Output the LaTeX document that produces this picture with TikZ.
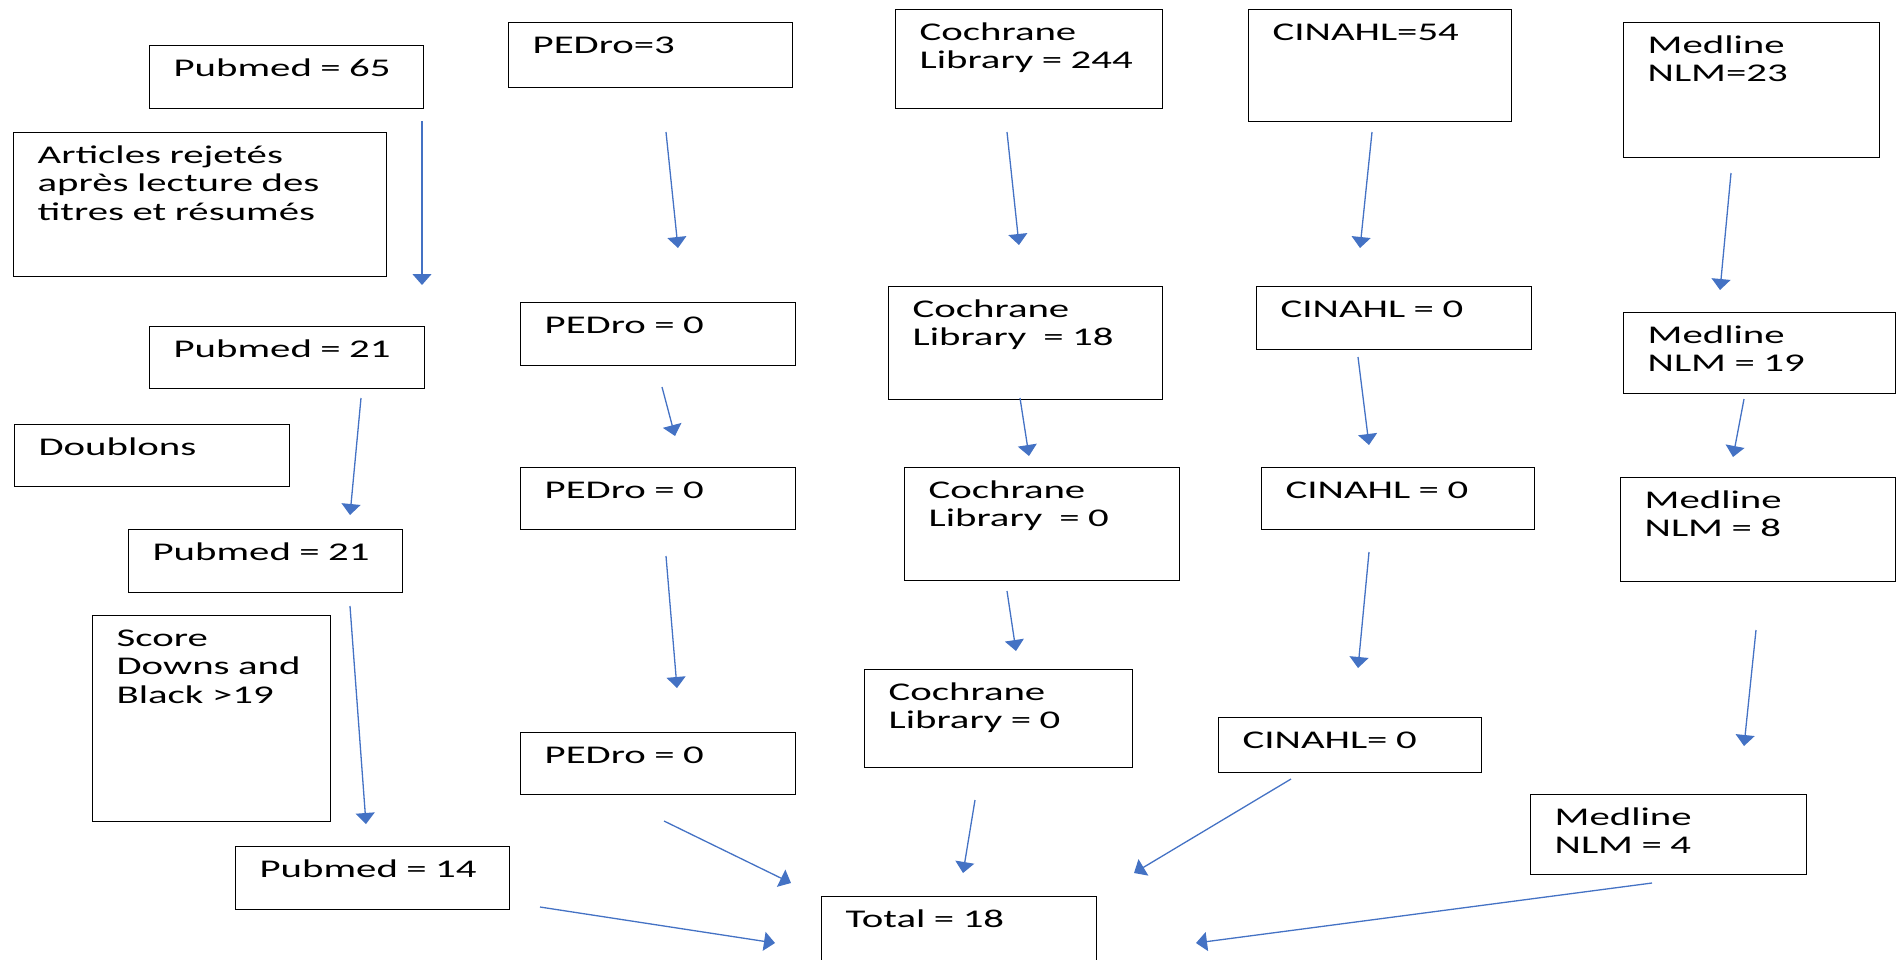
\documentclass[tikz,border=0pt]{standalone}
\usepackage{fontspec}
\setmainfont{Carlito}[FakeStretch=1.6]
\usetikzlibrary{arrows.meta}
\definecolor{bleu}{HTML}{4472C4}

\begin{document}
\begin{tikzpicture}[
x=1pt,
y=-1pt,
every node/.style={
draw,
line width=1.3pt,
anchor=north west,
align=left,
inner xsep=24pt,
inner ysep=0pt,
text height=30.5pt,
font=\fontsize{25.5}{28.5}\selectfont
},
fleche/.style={
-{Triangle[width=19pt,length=11pt]},
line width=1.3pt,
color=bleu
}
]

\useasboundingbox (0,0) rectangle (1897,959);

% Pubmed
\node[text width=226pt, text depth=32.5pt] (PM1) at (149,45)
{Pubmed = 65};

\node[text width=325pt, text depth=113.5pt] (A) at (13,132)
{Articles rejetés\\après lecture des\\titres et résumés};

\node[text width=227pt, text depth=31.5pt] (PM2) at (149,326)
{Pubmed = 21};

\node[text width=227pt, text depth=31.5pt] (D) at (14,424)
{Doublons};

\node[text width=226pt, text depth=32.5pt] (PM3) at (128,529)
{Pubmed = 21};

\node[text width=190pt, text depth=175.5pt] (S) at (92,615)
{Score\\Downs and\\Black >19};

\node[text width=226pt, text depth=32.5pt] (PM4) at (235,846)
{Pubmed = 14};

% PEDro
\node[text width=236pt, text depth=34.5pt] (PE1) at (508,22)
{PEDro=3};

\node[text width=227pt, text depth=32.5pt] (PE2) at (520,302)
{PEDro = 0};

\node[text width=227pt, text depth=31.5pt] (PE3) at (520,467)
{PEDro = 0};

\node[text width=227pt, text depth=31.5pt] (PE4) at (520,732)
{PEDro = 0};

% Cochrane
\node[text width=219pt, text depth=68.5pt] (CO1) at (895,9)
{Cochrane\\Library = 244};

\node[text width=226pt, text depth=82.5pt] (CO2) at (888,286)
{Cochrane\\Library~ = 18};

\node[text width=227pt, text depth=82.5pt] (CO3) at (904,467)
{Cochrane\\Library~ = 0};

\node[text width=220pt, text depth=67.5pt] (CO4) at (864,669)
{Cochrane\\Library = 0};

% CINAHL
\node[text width=215pt, text depth=81.5pt] (CI1) at (1248,9)
{CINAHL=54};

\node[text width=227pt, text depth=32.5pt] (CI2) at (1256,286)
{CINAHL = 0};

\node[text width=225pt, text depth=31.5pt] (CI3) at (1261,467)
{CINAHL = 0};

\node[text width=215pt, text depth=24.5pt] (CI4) at (1218,717)
{CINAHL= 0};

% Medline
\node[text width=208pt, text depth=104.5pt] (ME1) at (1623,22)
{Medline\\NLM=23};

\node[text width=224pt, text depth=50.5pt] (ME2) at (1623,312)
{Medline\\NLM = 19};

\node[text width=227pt, text depth=73.5pt] (ME3) at (1620,477)
{Medline\\NLM = 8};

\node[text width=228pt, text depth=49.5pt] (ME4) at (1530,794)
{Medline\\NLM = 4};

\node[text width=227pt, text depth=33.5pt] (T) at (821,896)
{Total = 18};

% bouts des fleches
\coordinate (PM1b) at (422,121);
\coordinate (PM2h) at (422,285);
\coordinate (PM2b) at (361,398);
\coordinate (PM3h) at (350,515);
\coordinate (PM3b) at (350,606);
\coordinate (PM4h) at (366,824);
\coordinate (PM4b) at (540,907);

\coordinate (PE1b) at (666,132);
\coordinate (PE2h) at (678,248);
\coordinate (PE2b) at (662,387);
\coordinate (PE3h) at (675,436);
\coordinate (PE3b) at (666,556);
\coordinate (PE4h) at (677,688);
\coordinate (PE4b) at (664,821);

\coordinate (CO1b) at (1007,132);
\coordinate (CO2h) at (1019,245);
\coordinate (CO2b) at (1020,398);
\coordinate (CO3h) at (1029,456);
\coordinate (CO3b) at (1007,591);
\coordinate (CO4h) at (1016,651);
\coordinate (CO4b) at (975,800);

\coordinate (CI1b) at (1372,132);
\coordinate (CI2h) at (1360,248);
\coordinate (CI2b) at (1358,357);
\coordinate (CI3h) at (1369,445);
\coordinate (CI3b) at (1369,552);
\coordinate (CI4h) at (1358,668);
\coordinate (CI4b) at (1291,779);

\coordinate (ME1b) at (1731,173);
\coordinate (ME2h) at (1720,290);
\coordinate (ME2b) at (1744,399);
\coordinate (ME3h) at (1733,457);
\coordinate (ME3b) at (1756,630);
\coordinate (ME4h) at (1744,746);
\coordinate (ME4b) at (1652,883);

\coordinate (T1) at (775,943);
\coordinate (T2) at (791,883);
\coordinate (T3) at (963,873);
\coordinate (T4) at (1134,873);
\coordinate (T5) at (1196,943);

\draw[fleche] (PM1b) -- (PM2h);
\draw[fleche] (PM2b) -- (PM3h);
\draw[fleche] (PM3b) -- (PM4h);
\draw[fleche] (PM4b) -- (T1);

\draw[fleche] (PE1b) -- (PE2h);
\draw[fleche] (PE2b) -- (PE3h);
\draw[fleche] (PE3b) -- (PE4h);
\draw[fleche] (PE4b) -- (T2);

\draw[fleche] (CO1b) -- (CO2h);
\draw[fleche] (CO2b) -- (CO3h);
\draw[fleche] (CO3b) -- (CO4h);
\draw[fleche] (CO4b) -- (T3);

\draw[fleche] (CI1b) -- (CI2h);
\draw[fleche] (CI2b) -- (CI3h);
\draw[fleche] (CI3b) -- (CI4h);
\draw[fleche] (CI4b) -- (T4);

\draw[fleche] (ME1b) -- (ME2h);
\draw[fleche] (ME2b) -- (ME3h);
\draw[fleche] (ME3b) -- (ME4h);
\draw[fleche] (ME4b) -- (T5);

\end{tikzpicture}
\end{document}
